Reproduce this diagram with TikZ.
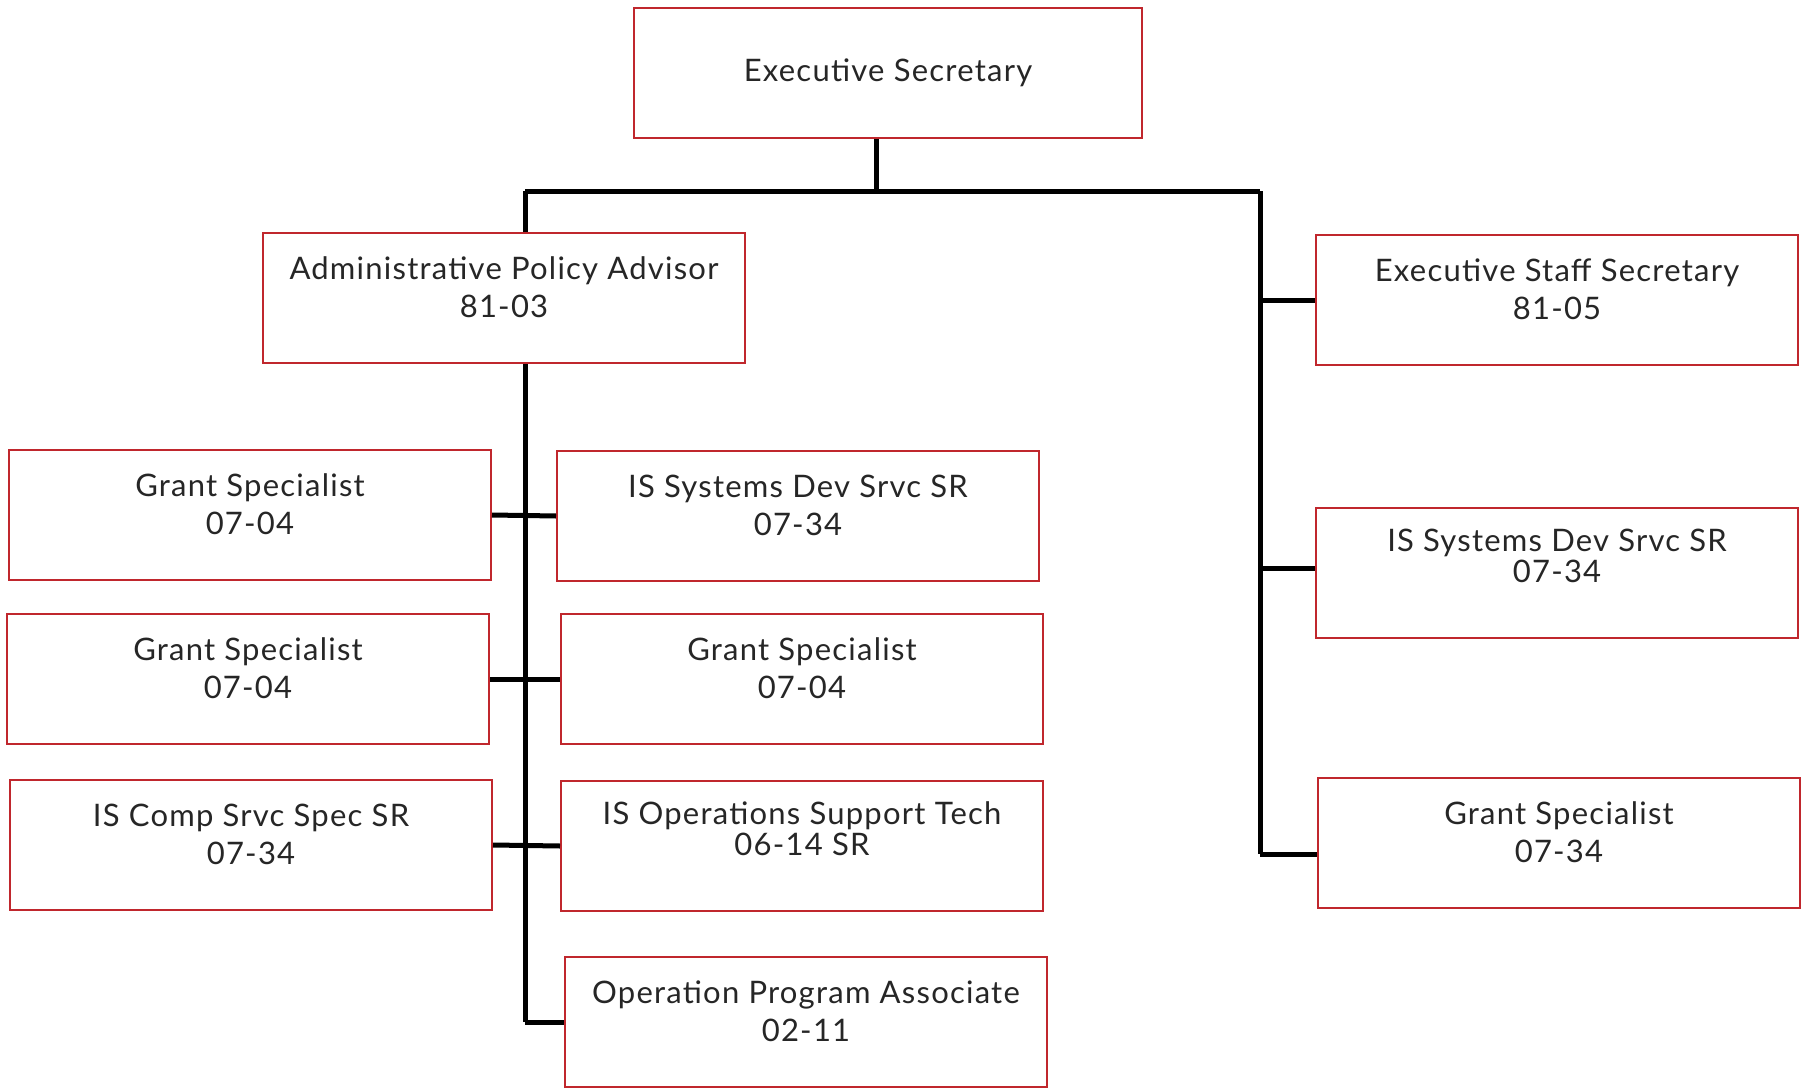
\documentclass[tikz,border=0pt]{standalone}
\usepackage{fontspec}
\setmainfont{Lato}[LetterSpace=4]
\usepackage{xcolor}
\usetikzlibrary{positioning,calc}
\definecolor{boxred}{HTML}{C0272D}
\tikzset{
  posbox/.style={rectangle, draw=boxred, line width=2pt, fill=white, align=center, inner sep=0pt, minimum width=482pt, text height=84pt, text depth=46pt, font=\fontsize{31}{38}\selectfont, text=black!85},
  tightbox/.style={posbox, text height=74pt, text depth=56pt, font=\fontsize{31}{31}\selectfont},
  orgline/.style={line width=5pt, black}
}
\begin{document}
\begin{tikzpicture}[x=1pt,y=-1pt]
\useasboundingbox (0,0) rectangle (1802,1089);
% branch points
\coordinate (top) at (876,191);
\coordinate (lt) at (525,191);
\coordinate (rt) at (1260,191);
\coordinate (rm) at (1260,568);
\coordinate (rb) at (1260,854);
% lines first, boxes on top
\draw[orgline] (lt) -- (rt);
\draw[orgline] (lt) -- (525,1022);
\draw[orgline] (rt) -- (rb);
\node[posbox, minimum width=508pt, text height=74pt, text depth=56pt] (es) at (888,73) {Executive Secretary};
\node[posbox] (adm) at (504,298) {Administrative Policy Advisor\\81-03};
\node[posbox] (ess) at (1557,300) {Executive Staff Secretary\\81-05};
\node[tightbox] (isr) at (1557,573) {IS Systems Dev Srvc SR\\07-34};
\node[posbox] (gsr) at (1559,843) {Grant Specialist\\07-34};
\node[posbox] (g1) at (250,515) {Grant Specialist\\07-04};
\node[posbox] (is1) at (798,516) {IS Systems Dev Srvc SR\\07-34};
\node[posbox] (g2) at (248,679) {Grant Specialist\\07-04};
\node[posbox] (g3) at (802,679) {Grant Specialist\\07-04};
\node[posbox] (isc) at (251,845) {IS Comp Srvc Spec SR\\07-34};
\node[tightbox] (iso) at (802,846) {IS Operations Support Tech\\06-14 SR};
\node[posbox] (opa) at (806,1022) {Operation Program Associate\\02-11};
% connectors
\draw[orgline] (es.south -| top) -- (top);
\draw[orgline] (g1.east) -- (is1.west);
\draw[orgline] (g2.east) -- (g3.west);
\draw[orgline] (isc.east) -- (iso.west);
\draw[orgline] (opa.west -| lt) -- (opa.west);
\draw[orgline] (ess.west -| rt) -- (ess.west);
\draw[orgline] (rm) -- (rm -| isr.west);
\draw[orgline] (rb) -- (rb -| gsr.west);
\end{tikzpicture}
\end{document}
